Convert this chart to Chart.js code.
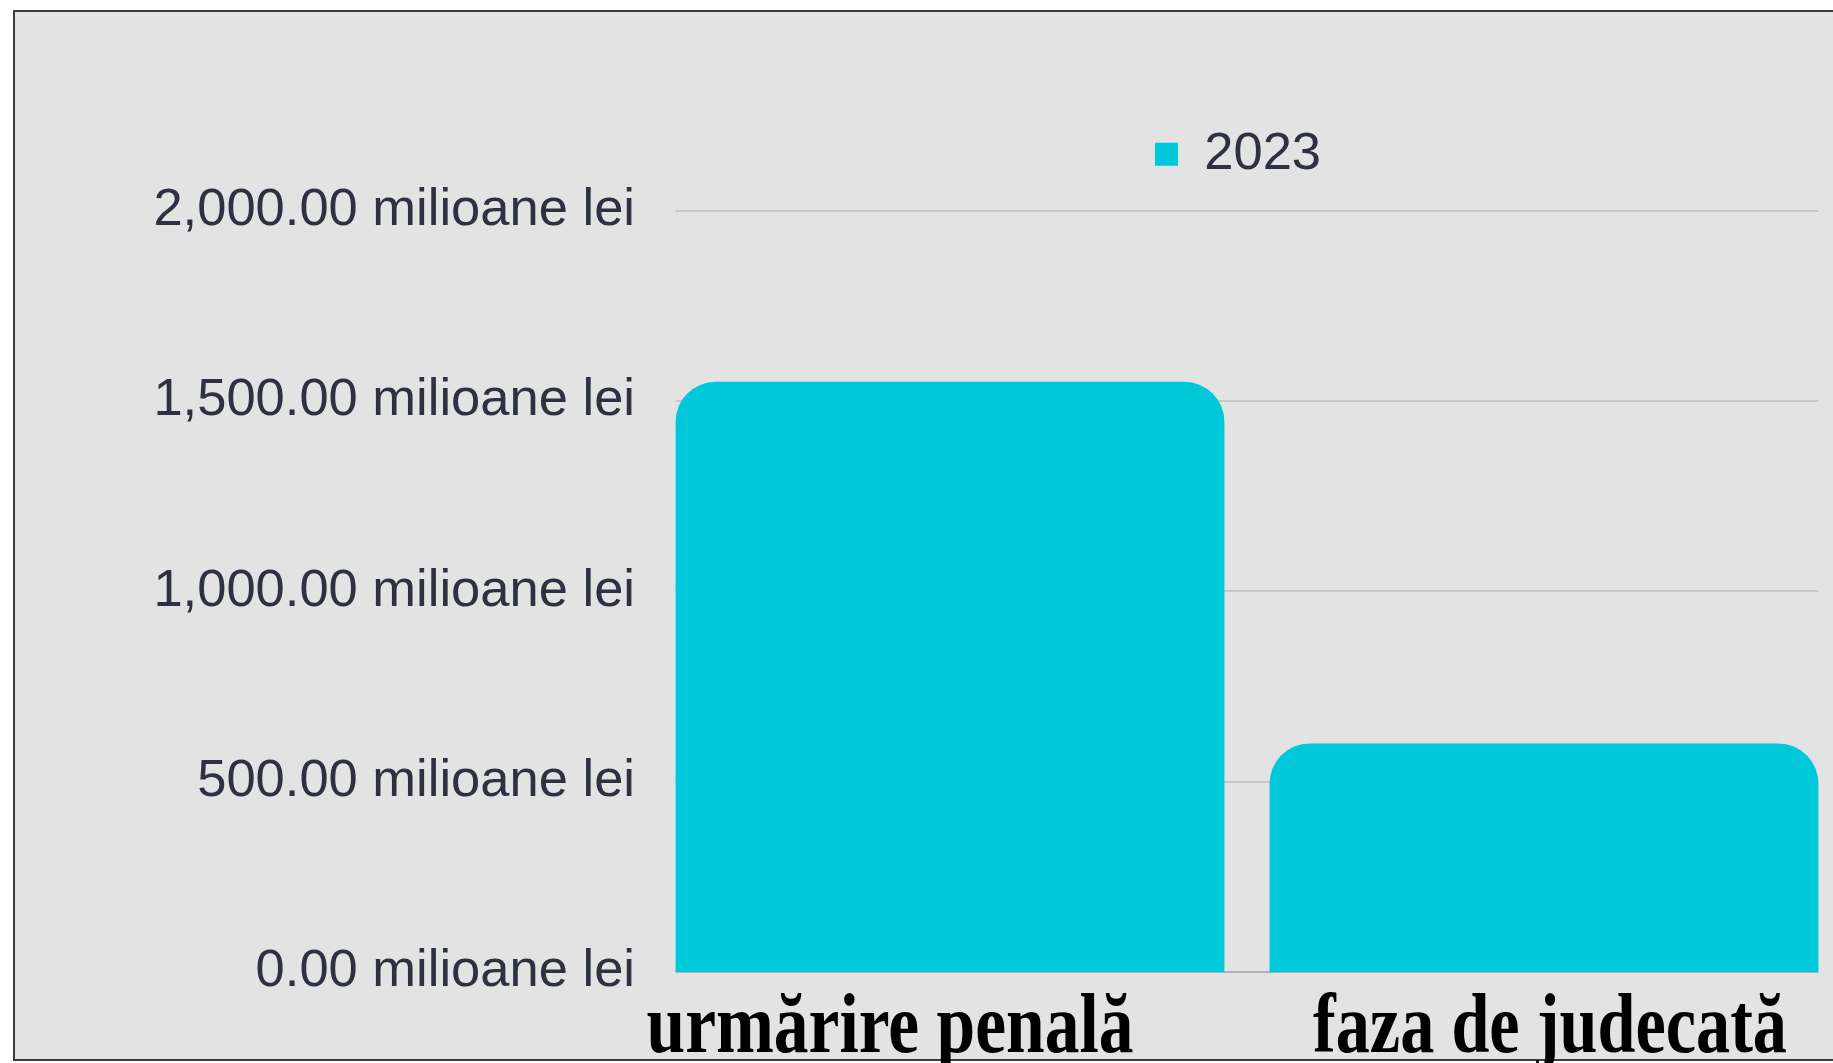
<!DOCTYPE html>
<html>
<head>
<meta charset="utf-8">
<script src="https://cdn.jsdelivr.net/npm/chart.js@4.4.1/dist/chart.umd.min.js"></script>
<style>
  html, body { margin: 0; padding: 0; background: #ffffff; overflow: hidden; }
  body { width: 1833px; height: 1063px; position: relative; }
  .frame {
    position: absolute; left: 13px; top: 10px; width: 1840px; height: 1047px;
    background: #e3e3e3;
    border-top: 2px solid #3a3d48; border-left: 2px solid #3a3d48; border-bottom: 2px solid #3a3d48;
  }
  .wrap { position: absolute; left: 15px; top: 12px; width: 1826px; height: 1051px; }
</style>
</head>
<body>
<div class="frame"></div>
<div class="wrap"><canvas id="graph"></canvas></div>
<script>
// date
const categorii = ['urmărire penală', 'faza de judecată'];
const valori2023 = [1550, 600];
const eticheteY = [0, 500, 1000, 1500, 2000];
const serie = '2023';

const culoare = '#00c8db';
const textGri = '#2e3140';

// extra room under the legend, and legend nudged a bit to the left
const legendSpace = {
  id: 'legendSpace',
  beforeInit(chart) {
    const fit = chart.legend.fit;
    chart.legend.fit = function () {
      fit.bind(chart.legend)();
      this.height += 20;
    };
  },
  afterLayout(chart) {
    chart.legend.left -= 9;
    chart.legend.right -= 9;
  }
};

// grid drawn only between the outer edges of the bars, like in the original
const gridPlugin = {
  id: 'gridBars',
  beforeDatasetsDraw(chart) {
    const bars = chart.getDatasetMeta(0).data;
    const left = bars[0].x - bars[0].width / 2;
    const last = bars[bars.length - 1];
    const right = last.x + last.width / 2;
    const y = chart.scales.y;
    const ctx = chart.ctx;
    ctx.save();
    y.ticks.forEach(t => {
      const py = Math.round(y.getPixelForValue(t.value));
      ctx.strokeStyle = t.value === 0 ? '#b2b2b2' : '#c8c8c8';
      ctx.lineWidth = 2;
      ctx.beginPath();
      ctx.moveTo(left, py);
      ctx.lineTo(right, py);
      ctx.stroke();
    });
    ctx.restore();
  }
};

// category labels: heavy serif, drawn under the plot
const xLabelsPlugin = {
  id: 'xLabels',
  afterDraw(chart) {
    const x = chart.scales.x;
    const ctx = chart.ctx;
    const shift = [-60, 6];
    const maxW = [487, 474];
    ctx.save();
    ctx.font = 'bold 84px "Liberation Serif", "DejaVu Serif", serif';
    ctx.fillStyle = '#000000';
    ctx.textAlign = 'center';
    ctx.textBaseline = 'alphabetic';
    categorii.forEach((c, i) => {
      ctx.fillText(c, x.getPixelForValue(i) + shift[i], chart.chartArea.bottom + 80, maxW[i]);
    });
    ctx.restore();
  }
};

new Chart(document.getElementById('graph'), {
  type: 'bar',
  plugins: [legendSpace, gridPlugin, xLabelsPlugin],
  data: {
    labels: categorii,
    datasets: [{
      label: serie,
      data: valori2023,
      backgroundColor: culoare,
      borderWidth: 0,
      borderRadius: { topLeft: 40, topRight: 40, bottomLeft: 0, bottomRight: 0 },
      borderSkipped: 'bottom',
      categoryPercentage: 1,
      barPercentage: 0.924
    }]
  },
  options: {
    responsive: true,
    maintainAspectRatio: false,
    animation: false,
    events: [],
    layout: { padding: { left: 0, right: 0, top: 88, bottom: 83 } },
    plugins: {
      tooltip: { enabled: false },
      legend: {
        position: 'top',
        fullSize: false,
        labels: {
          boxWidth: 23,
          boxHeight: 23,
          padding: 28,
          color: textGri,
          font: { family: '"Liberation Sans", Arial, sans-serif', size: 52.5 }
        }
      }
    },
    scales: {
      x: {
        ticks: { display: false },
        grid: { display: false },
        border: { display: false }
      },
      y: {
        min: 0,
        max: 2000,
        afterBuildTicks: (axis) => { axis.ticks = eticheteY.map(v => ({ value: v })); },
        afterFit: (axis) => { axis.width = 638; },
        grid: { display: false, drawTicks: false },
        border: { display: false },
        ticks: {
          padding: 18,
          color: textGri,
          font: { family: '"Liberation Sans", Arial, sans-serif', size: 52.5 },
          callback: (v) => v.toLocaleString('en-US', { minimumFractionDigits: 2, maximumFractionDigits: 2 }) + ' milioane lei'
        }
      }
    }
  }
});
</script>
</body>
</html>
